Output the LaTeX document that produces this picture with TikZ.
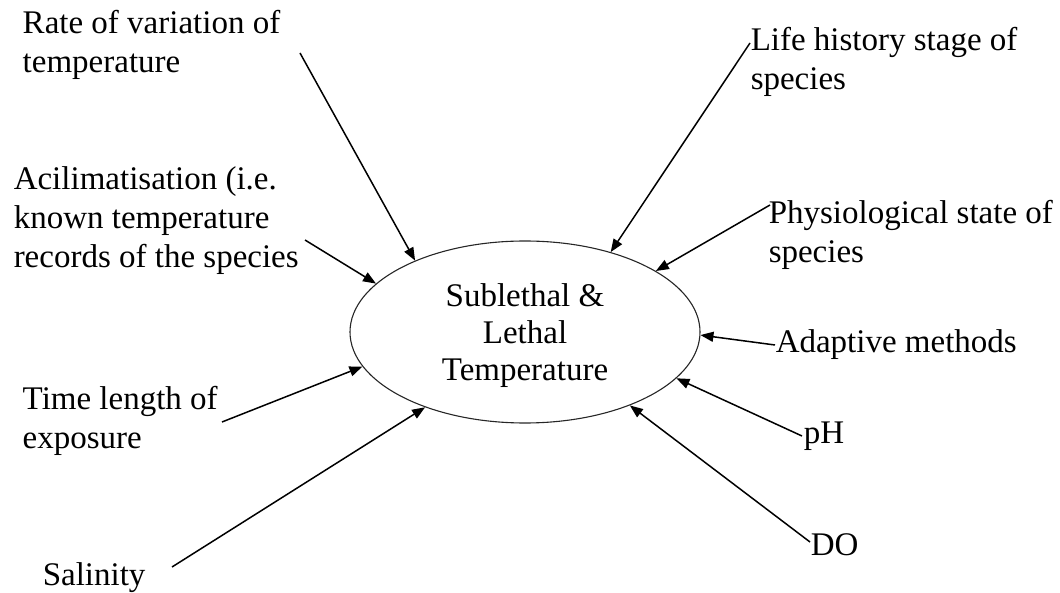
\documentclass[tikz,border=0pt]{standalone}
\usepackage{fontspec}
\setmainfont{Liberation Serif}
\usetikzlibrary{arrows.meta, positioning, shapes.geometric}
\tikzset{factor/.style={align=left, anchor=base west, inner sep=0pt, font=\fontsize{33}{39}\selectfont}}
\tikzset{effect/.style={draw=black!85, line width=1.1pt, ellipse, minimum width=350pt, minimum height=182pt, inner sep=0pt, text depth=0pt, align=center, font=\fontsize{33}{37}\selectfont}}

\begin{document}
\begin{tikzpicture}[x=1pt, y=-1pt, >={Triangle[length=13pt, width=10pt]}, line width=1.5pt]
\useasboundingbox (0,0) rectangle (1060,593);
\node[effect] (temp) at (525,332) {Sublethal \&\\Lethal\\Temperature};
\node[factor] (rate) at (22,73) {Rate of variation of\\temperature};
\node[factor] (acil) at (13,268) {Acilimatisation (i.e.\\known temperature\\records of the species};
\node[factor] (time) at (22,448) {Time length of\\exposure};
\node[factor] (sal) at (42,585) {Salinity};
\node[factor] (life) at (750,90) {Life history stage of\\species};
\node[factor] (phys) at (768,263) {Physiological state of\\species};
\node[factor] (adapt) at (775,353) {Adaptive methods};
\node[factor] (ph) at (803,443) {pH};
\node[factor] (do) at (810,555) {DO};
\coordinate (rate-in) at (300,53);
\coordinate (acil-in) at (305,240);
\coordinate (time-in) at (222,422);
\coordinate (sal-in) at (172,567);
\coordinate (life-in) at (750,43);
\coordinate (phys-in) at (770,205);
\coordinate (adapt-in) at (775,345);
\coordinate (ph-in) at (802,436);
\coordinate (do-in) at (810,542);
\draw [->] (rate-in) -- (temp.147);
\draw [->] (acil-in) -- (temp.162);
\draw [->] (time-in) -- (temp.192);
\draw [->] (sal-in) -- (temp.217);
\draw [->] (life-in) -- (temp.43);
\draw [->] (phys-in) -- (temp.25);
\draw [->] (adapt-in) -- (temp.-1);
\draw [->] (ph-in) -- (temp.-17);
\draw [->] (do-in) -- (temp.-35);
\end{tikzpicture}
\end{document}
